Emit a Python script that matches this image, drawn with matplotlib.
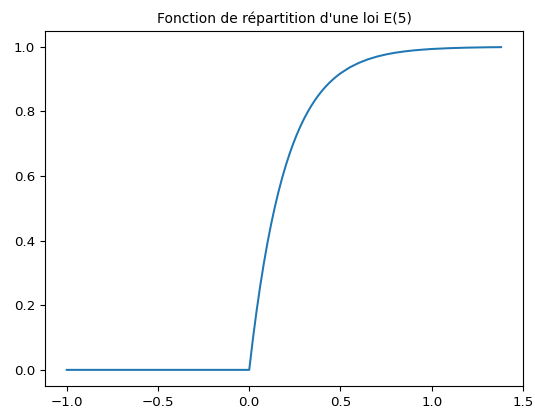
import matplotlib
matplotlib.use("Agg")
import matplotlib.pyplot as plt

x_values = [-1.0, -0.5, 0.0, 0.02, 0.04, 0.06, 0.08, 0.10, 0.12, 0.14, 0.16, 0.18,
            0.20, 0.22, 0.24, 0.26, 0.28, 0.30, 0.32, 0.34, 0.36, 0.38, 0.40,
            0.42, 0.44, 0.46, 0.48, 0.50, 0.55, 0.60, 0.65, 0.70, 0.75, 0.80,
            0.85, 0.90, 0.95, 1.00, 1.10, 1.20, 1.30, 1.38]
cdf_values = [0.0, 0.0, 0.0, 0.0952, 0.1813, 0.2592, 0.3297, 0.3935, 0.4512, 0.5034,
              0.5507, 0.5934, 0.6321, 0.6671, 0.6988, 0.7275, 0.7534, 0.7769,
              0.7981, 0.8173, 0.8347, 0.8504, 0.8647, 0.8775, 0.8892, 0.8997,
              0.9093, 0.9179, 0.9361, 0.9502, 0.9612, 0.9698, 0.9765, 0.9817,
              0.9857, 0.9889, 0.9913, 0.9933, 0.9959, 0.9975, 0.9985, 0.9990]
x_ticks = [-1.0, -0.5, 0.0, 0.5, 1.0, 1.5]
y_ticks = [0.0, 0.2, 0.4, 0.6, 0.8, 1.0]
title = "Fonction de répartition d'une loi E(5)"

plt.rcParams['font.size'] = 9.6
fig = plt.figure(figsize=(5.35, 4.12), dpi=100)
ax = fig.add_axes([45/535, 26/412, 478/535, 355/412])
ax.plot(x_values, cdf_values, color='#1f77b4', linewidth=1.45)
ax.set_xlim(-1.119, 1.5)
ax.set_xticks(x_ticks)
ax.set_yticks(y_ticks)
ax.set_title(title, fontsize=10.0)
fig.savefig("out.png", dpi=100)
